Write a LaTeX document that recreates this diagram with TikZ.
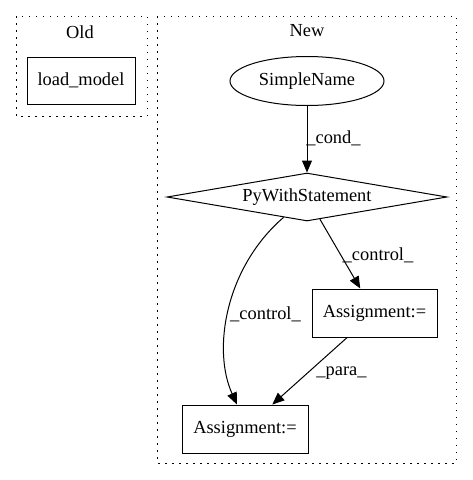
\documentclass[tikz,border=0pt]{standalone}
\usepackage{fontspec}
\setmainfont{Liberation Serif}
\usetikzlibrary{shapes.geometric,arrows.meta}
\begin{document}
\begin{tikzpicture}[x=1pt,y=-1pt,
  every node/.style={font=\fontsize{18.4}{22}\selectfont, inner sep=0pt},
  cluster/.style={draw, line width=1pt, dash pattern=on 1.5pt off 5.5pt},
  rectnode/.style={draw, line width=1pt, rectangle, minimum width=126pt, minimum height=48pt},
  edge/.style={draw, line width=1pt, -{Triangle[length=12pt,width=10pt]}}]
\useasboundingbox (0,0) rectangle (472,480);
% clusters
\draw[cluster] (16,16) rectangle (147,116);
\draw[cluster] (157,16) rectangle (456,463);
\node (oldlbl) at (80,32) {Old};
\node (newlbl) at (307,31) {New};
% nodes
\node[rectnode, minimum width=108pt, minimum height=47pt] (lm) at (81,80.5) {load\_model};
\node[draw, line width=1pt, ellipse, minimum width=154pt, minimum height=49pt] (sn) at (307,81) {SimpleName};
\node[draw, line width=1pt, diamond, shape aspect=5.83, minimum width=280pt, minimum height=48pt] (pws) at (307,197) {PyWithStatement};
\node[rectnode, minimum width=125pt] (a1) at (374.5,313) {Assignment:=};
\node[rectnode, minimum width=126pt] (a2) at (245,429) {Assignment:=};
% edges
\draw[edge] (sn) -- (pws);
\draw[edge] (pws) -- (a1);
\draw[edge] (a1) -- (a2);
\draw[edge] (pws.221) .. controls +(-58,50) and +(-25,-55) .. ([xshift=-8pt]a2.north);
% edge labels
\node (l1) at (333.5,138) {\_cond\_};
\node (l2) at (378,255) {\_control\_};
\node (l3) at (265.5,314) {\_control\_};
\node (l4) at (341.5,373) {\_para\_};
\end{tikzpicture}
\end{document}
